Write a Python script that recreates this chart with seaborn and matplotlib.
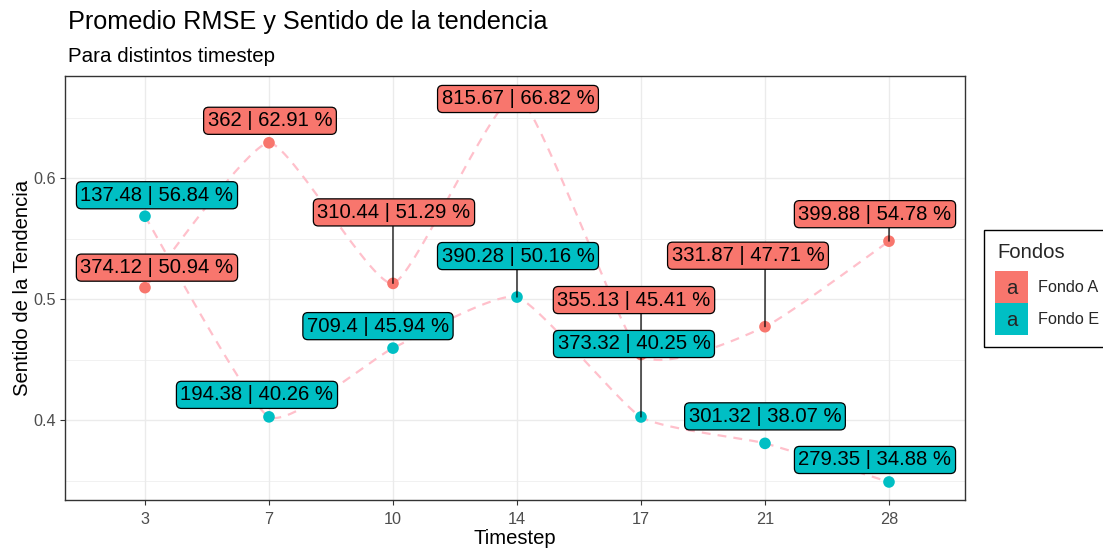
import numpy as np
import pandas as pd
import matplotlib
matplotlib.use("Agg")
import matplotlib.pyplot as plt
import seaborn as sns
from matplotlib.patches import Rectangle

# ---------------- data ----------------
timesteps = ["3", "7", "10", "14", "17", "21", "28"]
fondos = ["Fondo A", "Fondo E"]
fondo_a_sentido = [0.5094, 0.6291, 0.5129, 0.6682, 0.4541, 0.4771, 0.5478]
fondo_a_rmse = [374.12, 362, 310.44, 815.67, 355.13, 331.87, 399.88]
fondo_e_sentido = [0.5684, 0.4026, 0.4594, 0.5016, 0.4025, 0.3807, 0.3488]
fondo_e_rmse = [137.48, 194.38, 709.4, 390.28, 373.32, 301.32, 279.35]

# ---------------- style / layout ----------------
colors = {"Fondo A": "#F8766D", "Fondo E": "#00BFC4"}
# label offsets (pixels, from point to label centre) mimicking ggrepel placement
off_a = [(12, 20), (1, 22), (1, 71), (1, -3.5), (-7, 54.5), (-17, 71), (-14, 27)]
off_e = [(12, 21), (-12, 22), (-15, 22), (1, 41), (-7, 73), (0, 27), (-14, 22)]
seg_a = [False, False, True, False, True, True, True]
seg_e = [False, False, False, True, True, False, False]

W, H = 1103, 550
sns.set_theme(style="white")
plt.rcParams["font.family"] = ["Liberation Sans", "DejaVu Sans"]

df = pd.DataFrame({
    "Timestep": timesteps * 2,
    "pos": list(range(len(timesteps))) * 2,
    "Sentido": fondo_a_sentido + fondo_e_sentido,
    "RMSE": fondo_a_rmse + fondo_e_rmse,
    "Fondos": ["Fondo A"] * len(timesteps) + ["Fondo E"] * len(timesteps),
})


def fmt(v):
    return f"{round(v, 2):.2f}".rstrip("0").rstrip(".")


def cardinal_spline(xs, ys, tension=0.5, n=40):
    """Hermite spline through the data with reduced tangents (x-spline-like)."""
    P = np.column_stack([xs, ys]).astype(float)
    Pp = np.vstack([P[0], P, P[-1]])
    out = []
    t = np.linspace(0, 1, n, endpoint=False)[:, None]
    h00 = 2 * t ** 3 - 3 * t ** 2 + 1
    h10 = t ** 3 - 2 * t ** 2 + t
    h01 = -2 * t ** 3 + 3 * t ** 2
    h11 = t ** 3 - t ** 2
    for i in range(1, len(Pp) - 2):
        p0, p1, p2, p3 = Pp[i - 1], Pp[i], Pp[i + 1], Pp[i + 2]
        m1 = tension * (p2 - p0) / 2
        m2 = tension * (p3 - p1) / 2
        out.append(h00 * p1 + h10 * m1 + h01 * p2 + h11 * m2)
    out.append(P[-1][None, :])
    return np.vstack(out)


fig = plt.figure(figsize=(W / 100, H / 100), dpi=100)
ax = fig.add_axes([65 / W, 1 - 500 / H, 900 / W, 424 / H])

# spline lines
for f in fondos:
    sub = df[df["Fondos"] == f]
    c = cardinal_spline(sub["pos"].values, sub["Sentido"].values)
    ax.plot(c[:, 0], c[:, 1], color="#FFC0CB", lw=1.6, linestyle=(0, (4, 3.2)), zorder=2)

sns.scatterplot(data=df, x="pos", y="Sentido", hue="Fondos", palette=colors,
                s=70, linewidth=0, legend=False, ax=ax, zorder=3)

# labels
for f, vals, rm, offs, segs in [("Fondo A", fondo_a_sentido, fondo_a_rmse, off_a, seg_a),
                                ("Fondo E", fondo_e_sentido, fondo_e_rmse, off_e, seg_e)]:
    for i, (v, r) in enumerate(zip(vals, rm)):
        txt = f"{fmt(r)} | {fmt(v * 100)} %"
        ap = None
        if segs[i]:
            relx = min(max(0.5 - offs[i][0] / 152.0, 0.0), 1.0)
            ap = dict(arrowstyle="-", color="black", lw=0.9, shrinkA=0, shrinkB=0,
                      relpos=(relx, 0.0))
        ax.annotate(txt, xy=(i, v), xytext=offs[i], textcoords="offset pixels",
                    ha="center", va="center", fontsize=14.6, color="black", zorder=6,
                    bbox=dict(boxstyle="round,pad=0.2,rounding_size=0.25", fc=colors[f],
                              ec="black", lw=0.9),
                    arrowprops=ap)

# axes
ax.set_xlim(-0.645, 6.613)
ax.set_ylim(0.3339, 0.6843)
ax.set_xticks(range(len(timesteps)))
ax.set_xticklabels(timesteps)
ax.set_yticks([0.4, 0.5, 0.6])
ax.set_yticklabels(["0.4", "0.5", "0.6"])
ax.set_yticks([0.35, 0.45, 0.55, 0.65], minor=True)
ax.grid(True, which="major", color="#EBEBEB", lw=1.0)
ax.grid(True, which="minor", axis="y", color="#EBEBEB", lw=0.5)
ax.set_axisbelow(True)
for s in ax.spines.values():
    s.set_color("#333333")
    s.set_linewidth(1.0)
ax.tick_params(axis="both", which="major", direction="out", length=3.5, width=0.8,
               color="#333333", labelcolor="#4D4D4D", labelsize=11.7, pad=3,
               bottom=True, left=True)
ax.tick_params(axis="x", which="major", pad=5)
ax.tick_params(axis="both", which="minor", length=0)
ax.set_xlabel("Timestep", fontsize=14.6, color="black", labelpad=1.5)
ax.set_ylabel("Sentido de la Tendencia", fontsize=14.6, color="black", labelpad=1)

# titles
fig.text(68 / W, 1 - 22 / H, "Promedio RMSE y Sentido de la tendencia", fontsize=18.2,
         ha="left", va="center", color="black")
fig.text(68 / W, 1 - 57 / H, "Para distintos timestep", fontsize=14.8,
         ha="left", va="center", color="black")


# legend (manual, ggplot-like)
def fx(x):
    return x / W


def fy(y):
    return 1 - y / H


fig.add_artist(Rectangle((fx(984), fy(347)), fx(1140) - fx(984), fy(230) - fy(347),
                         transform=fig.transFigure, fill=False, ec="black", lw=1.0))
fig.text(fx(997), fy(253), "Fondos", fontsize=14.6, ha="left", va="center")
for k, (f, y0) in enumerate([("Fondo A", 271), ("Fondo E", 303)]):
    fig.add_artist(Rectangle((fx(995), fy(y0 + 32)), fx(1028) - fx(995), fy(y0) - fy(y0 + 32),
                             transform=fig.transFigure, fc=colors[f], ec="none"))
    fig.text(fx(1011.5), fy(y0 + 17), "a", fontsize=14.6, ha="center", va="center")
    fig.text(fx(1038), fy(y0 + 17), f, fontsize=11.7, ha="left", va="center")

fig.savefig("out.png", dpi=100, facecolor="white")
